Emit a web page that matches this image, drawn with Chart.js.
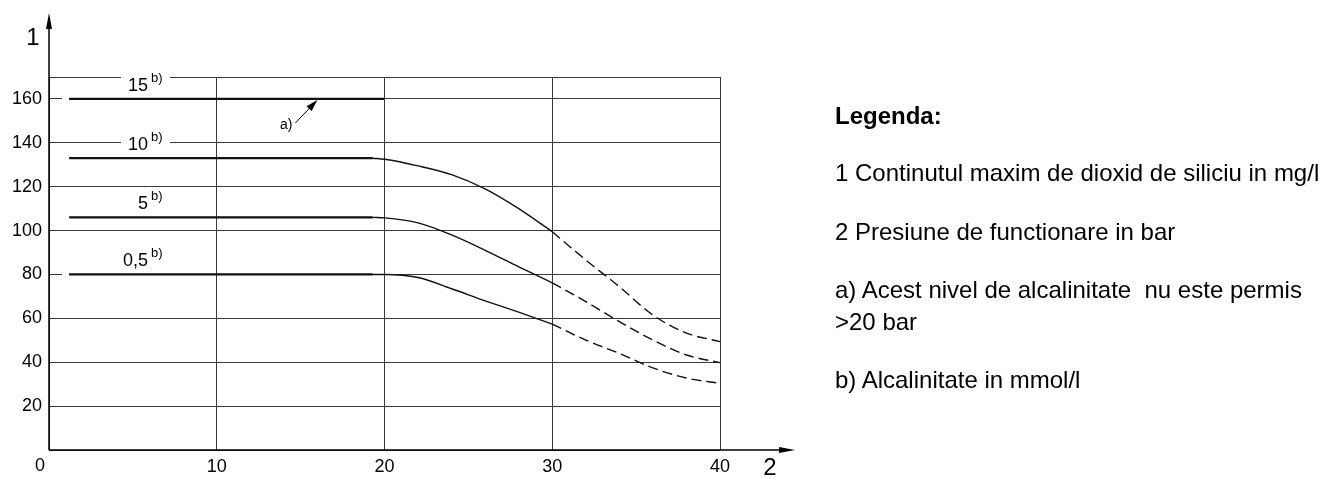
<!DOCTYPE html>
<html lang="ro">
<head>
<meta charset="UTF-8">
<title>Continutul maxim de dioxid de siliciu</title>
<script src="https://cdn.jsdelivr.net/npm/chart.js"></script>
<style>
  body { margin: 0; background: #fff; }
  #wrap { position: relative; width: 1324px; height: 478px; font-family: "Liberation Sans", Arial, sans-serif; }
  #chart { position: absolute; left: 0; top: 0; }
  .leg { position: absolute; left: 835px; font-size: 24px; line-height: 28px; white-space: pre; color: #000; }
</style>
</head>
<body>
<div id="wrap">
  <canvas id="chart" width="1324" height="478"></canvas>
  <div class="leg" style="top:102px;font-weight:bold">Legenda:</div>
  <div class="leg" style="top:159px">1 Continutul maxim de dioxid de siliciu in mg/l</div>
  <div class="leg" style="top:218px">2 Presiune de functionare in bar</div>
  <div class="leg" style="top:276px">a) Acest nivel de alcalinitate  nu este permis</div>
  <div class="leg" style="top:308px">&gt;20 bar</div>
  <div class="leg" style="top:366px">b) Alcalinitate in mmol/l</div>
</div>
<script>
// alkalinity levels (mmol/l) and the values
const alkalinity = ['15', '10', '5', '0,5'];
const flatLevel = [160, 133, 106, 80];
const xFlat = [1.2, 19.3];
const xFlat15 = [1.2, 20];

const xCurve = [19.3, 20, 22, 24, 26, 28, 30];
const curve10 = [133, 132.5, 129.5, 125.5, 119, 110, 99.5];
const curve5 = [106, 105.8, 103.5, 98, 91, 83.5, 76.2];
const curve05 = [80, 80, 78.6, 73.5, 68, 62.8, 57.4];

const xDash = [30, 32, 34, 36, 38, 40];
const dash10 = [99.5, 86.6, 74.4, 61.5, 53.3, 49.4];
const dash5 = [76.2, 67.6, 58.5, 50.1, 43.3, 39.8];
const dash05 = [57.4, 50.1, 44, 37.4, 32.8, 30.4];

const xTicks = [0, 10, 20, 30, 40];
const yTicks = [0, 20, 40, 60, 80, 100, 120, 140, 160, 170];

const FONT = '"Liberation Sans", Arial, sans-serif';

function pts(xs, ys) { return xs.map((x, i) => ({ x: x, y: ys[i] })); }

const datasets = [];
flatLevel.forEach((v, i) => {
  const xs = i === 0 ? xFlat15 : xFlat;
  datasets.push({ data: pts(xs, [v, v]), borderWidth: 2.2 });
});
[curve10, curve5, curve05].forEach(c => {
  datasets.push({ data: pts(xCurve, c), borderWidth: 1.4, cubicInterpolationMode: 'monotone' });
});
[dash10, dash5, dash05].forEach(c => {
  datasets.push({ data: pts(xDash, c), borderWidth: 1.4, borderDash: [10, 5], cubicInterpolationMode: 'monotone' });
});
datasets.forEach(d => {
  d.showLine = true;
  d.pointRadius = 0;
  d.borderColor = '#111';
  d.fill = false;
});

const sketch = {
  id: 'sketch',
  beforeDatasetsDraw(chart) {
    const ctx = chart.ctx, x = chart.scales.x, y = chart.scales.y;
    // little gap in the grid line just before a level line starts on it
    ctx.save();
    ctx.fillStyle = '#fff';
    flatLevel.forEach(v => {
      if (yTicks.includes(v)) {
        const py = y.getPixelForValue(v);
        const px = x.getPixelForValue(xFlat[0]);
        ctx.fillRect(px - 7, py - 2, 7, 4);
      }
    });
    ctx.restore();
  },
  afterDatasetsDraw(chart) {
    const ctx = chart.ctx, x = chart.scales.x, y = chart.scales.y;
    const x0 = x.getPixelForValue(0), y0 = y.getPixelForValue(0);
    ctx.save();

    // level labels, with a white box that breaks the grid line
    const lx = x.getPixelForValue(5.9);
    flatLevel.forEach((v, i) => {
      const cy = y.getPixelForValue(v) - 13;
      ctx.font = '18px ' + FONT;
      const w = ctx.measureText(alkalinity[i]).width;
      ctx.fillStyle = '#fff';
      ctx.fillRect(lx - w - 7, cy - 11, w + 29, 19);
      ctx.fillStyle = '#000';
      ctx.textAlign = 'right';
      ctx.textBaseline = 'middle';
      ctx.fillText(alkalinity[i], lx, cy);
      ctx.font = '13px ' + FONT;
      ctx.textAlign = 'left';
      ctx.fillText('b)', lx + 3, cy - 8);
    });

    // axes with arrows
    ctx.strokeStyle = '#000';
    ctx.fillStyle = '#000';
    ctx.lineWidth = 1.5;
    ctx.beginPath();
    ctx.moveTo(x0, y0);
    ctx.lineTo(x0, 20);
    ctx.moveTo(x0, y0);
    ctx.lineTo(788, y0);
    ctx.stroke();
    ctx.beginPath();
    ctx.moveTo(x0, 13); ctx.lineTo(x0 - 3, 29); ctx.lineTo(x0 + 3, 29); ctx.closePath();
    ctx.fill();
    ctx.beginPath();
    ctx.moveTo(795, y0); ctx.lineTo(779, y0 - 3); ctx.lineTo(779, y0 + 3); ctx.closePath();
    ctx.fill();

    ctx.textAlign = 'center';
    ctx.textBaseline = 'middle';
    ctx.font = '24px ' + FONT;
    ctx.fillText('1', 33, 38);
    ctx.fillText('2', 770, 468);
    ctx.font = '18px ' + FONT;
    ctx.fillText('0', x0 - 9, 466);

    // arrow a)
    const tx = x.getPixelForValue(16), ty = y.getPixelForValue(160) + 1;
    const sx = tx - 22, sy = ty + 23;
    const ang = Math.atan2(ty - sy, tx - sx);
    ctx.lineWidth = 1;
    ctx.beginPath();
    ctx.moveTo(sx, sy);
    ctx.lineTo(tx - 8 * Math.cos(ang), ty - 8 * Math.sin(ang));
    ctx.stroke();
    ctx.beginPath();
    ctx.moveTo(tx, ty);
    ctx.lineTo(tx - 12 * Math.cos(ang) + 3.5 * Math.sin(ang), ty - 12 * Math.sin(ang) - 3.5 * Math.cos(ang));
    ctx.lineTo(tx - 12 * Math.cos(ang) - 3.5 * Math.sin(ang), ty - 12 * Math.sin(ang) + 3.5 * Math.cos(ang));
    ctx.closePath();
    ctx.fill();
    ctx.font = '14px ' + FONT;
    ctx.textAlign = 'right';
    ctx.fillText('a)', sx - 3, sy + 2);

    ctx.restore();
  }
};

new Chart(document.getElementById('chart'), {
  type: 'scatter',
  data: { datasets: datasets },
  options: {
    responsive: false,
    animation: false,
    layout: { padding: { top: 77, right: 604, left: 0, bottom: 0 } },
    plugins: { legend: { display: false }, tooltip: { enabled: false } },
    scales: {
      x: {
        type: 'linear',
        min: 0,
        max: 40,
        afterBuildTicks: s => { s.ticks = xTicks.map(v => ({ value: v })); },
        afterFit: s => { s.height = 28; },
        border: { display: false },
        grid: { color: '#3a3a3a', lineWidth: 1, drawTicks: false },
        ticks: {
          color: '#000',
          font: { family: FONT, size: 18 },
          padding: 6,
          maxRotation: 0,
          callback: v => (v === 0 ? '' : v)
        }
      },
      y: {
        type: 'linear',
        min: 0,
        max: 170,
        afterBuildTicks: s => { s.ticks = yTicks.map(v => ({ value: v })); },
        afterFit: s => { s.width = 49; },
        border: { display: false },
        grid: { color: '#3a3a3a', lineWidth: 1, drawTicks: false },
        ticks: {
          color: '#000',
          font: { family: FONT, size: 18 },
          padding: 7,
          callback: v => (v === 0 || v === 170 ? '' : v)
        }
      }
    }
  },
  plugins: [sketch]
});
</script>
</body>
</html>
